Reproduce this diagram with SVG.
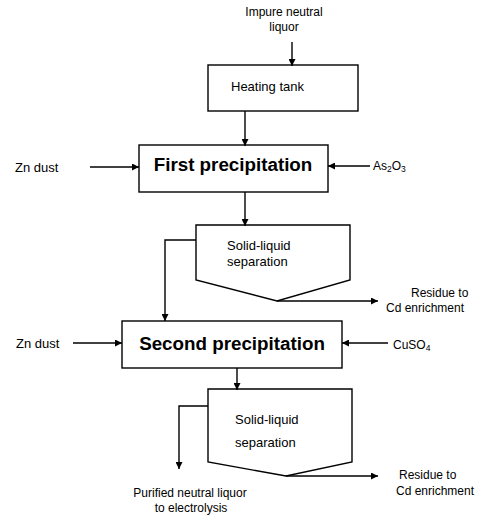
<svg xmlns="http://www.w3.org/2000/svg" width="483" height="520" viewBox="0 0 483 520">
<defs>
<marker id="ah" viewBox="0 0 10 10" refX="10" refY="5" markerWidth="7" markerHeight="7" markerUnits="userSpaceOnUse" orient="auto">
<path d="M0,0 L10,5 L0,10 z" fill="#000"/>
</marker>
<style>
.box{fill:#fff;stroke:#000;stroke-width:1.4}
.ar{fill:none;stroke:#000;stroke-width:1.4;marker-end:url(#ah)}
.t{font-family:"Liberation Sans",Arial,sans-serif;font-size:12px;fill:#000}
.m{font-family:"Liberation Sans",Arial,sans-serif;font-size:13px;fill:#000}
.b{font-family:"Liberation Sans",Arial,sans-serif;font-size:18.8px;font-weight:bold;fill:#000}
</style>
</defs>
<rect width="483" height="520" fill="#fff"/>
<g id="feed">
<text class="t" x="284" y="16" text-anchor="middle" font-size="12.8">Impure neutral</text>
<text class="t" x="284" y="31" text-anchor="middle" font-size="12.8">liquor</text>
</g>
<g id="heating-tank">
<rect class="box" x="208" y="65" width="150" height="46"/>
<text class="m" x="231" y="91">Heating tank</text>
</g>
<g id="first-precipitation">
<rect class="box" x="139" y="145" width="189" height="47"/>
<text class="b" x="233" y="171" text-anchor="middle">First precipitation</text>
</g>
<g id="zn-dust-1"><text class="m" x="15" y="172">Zn dust</text></g>
<g id="as2o3"><text class="t" x="373" y="170">As<tspan font-size="8.5" dy="2">2</tspan><tspan dy="-2">O</tspan><tspan font-size="8.5" dy="2">3</tspan></text></g>
<g id="separation-1">
<path class="box" d="M196,225 H350 V280 L277,301 L196,280 Z"/>
<text class="m" x="227" y="250" font-size="14">Solid-liquid</text>
<text class="m" x="227" y="266" font-size="14.5">separation</text>
</g>
<g id="residue-1">
<text class="t" x="411" y="297">Residue to</text>
<text class="t" x="386" y="312" font-size="13.5">Cd enrichment</text>
</g>
<g id="second-precipitation">
<rect class="box" x="122" y="321" width="220" height="47"/>
<text class="b" x="232" y="350" text-anchor="middle">Second precipitation</text>
</g>
<g id="zn-dust-2"><text class="m" x="16" y="348">Zn dust</text></g>
<g id="cuso4"><text class="t" x="393" y="349">CuSO<tspan font-size="8.5" dy="2">4</tspan></text></g>
<g id="separation-2">
<path class="box" d="M208,389 H352 V462 L286,476 L208,462 Z"/>
<text class="m" x="235" y="424" font-size="15.5">Solid-liquid</text>
<text class="m" x="235" y="447" font-size="15.5">separation</text>
</g>
<g id="residue-2">
<text class="t" x="399" y="479">Residue to</text>
<text class="t" x="396" y="495" font-size="13.5">Cd enrichment</text>
</g>
<g id="product">
<text class="t" x="190" y="497" text-anchor="middle" font-size="11.2">Purified neutral liquor</text>
<text class="t" x="191" y="512" text-anchor="middle" font-size="11.2">to electrolysis</text>
</g>
<g id="connectors">
<path class="ar" d="M292,42 V66"/>
<path class="ar" d="M245,111 V146"/>
<path class="ar" d="M90,167 H139"/>
<path class="ar" d="M370,166 H328"/>
<path class="ar" d="M245,192 V226"/>
<path class="ar" d="M196,240 H165 V321"/>
<path class="ar" d="M277,301 H378"/>
<path class="ar" d="M73,343 H122"/>
<path class="ar" d="M388,343 H342"/>
<path class="ar" d="M237,368 V390"/>
<path class="ar" d="M208,406 H179 V469"/>
<path class="ar" d="M286,476 H378"/>
</g>
</svg>
